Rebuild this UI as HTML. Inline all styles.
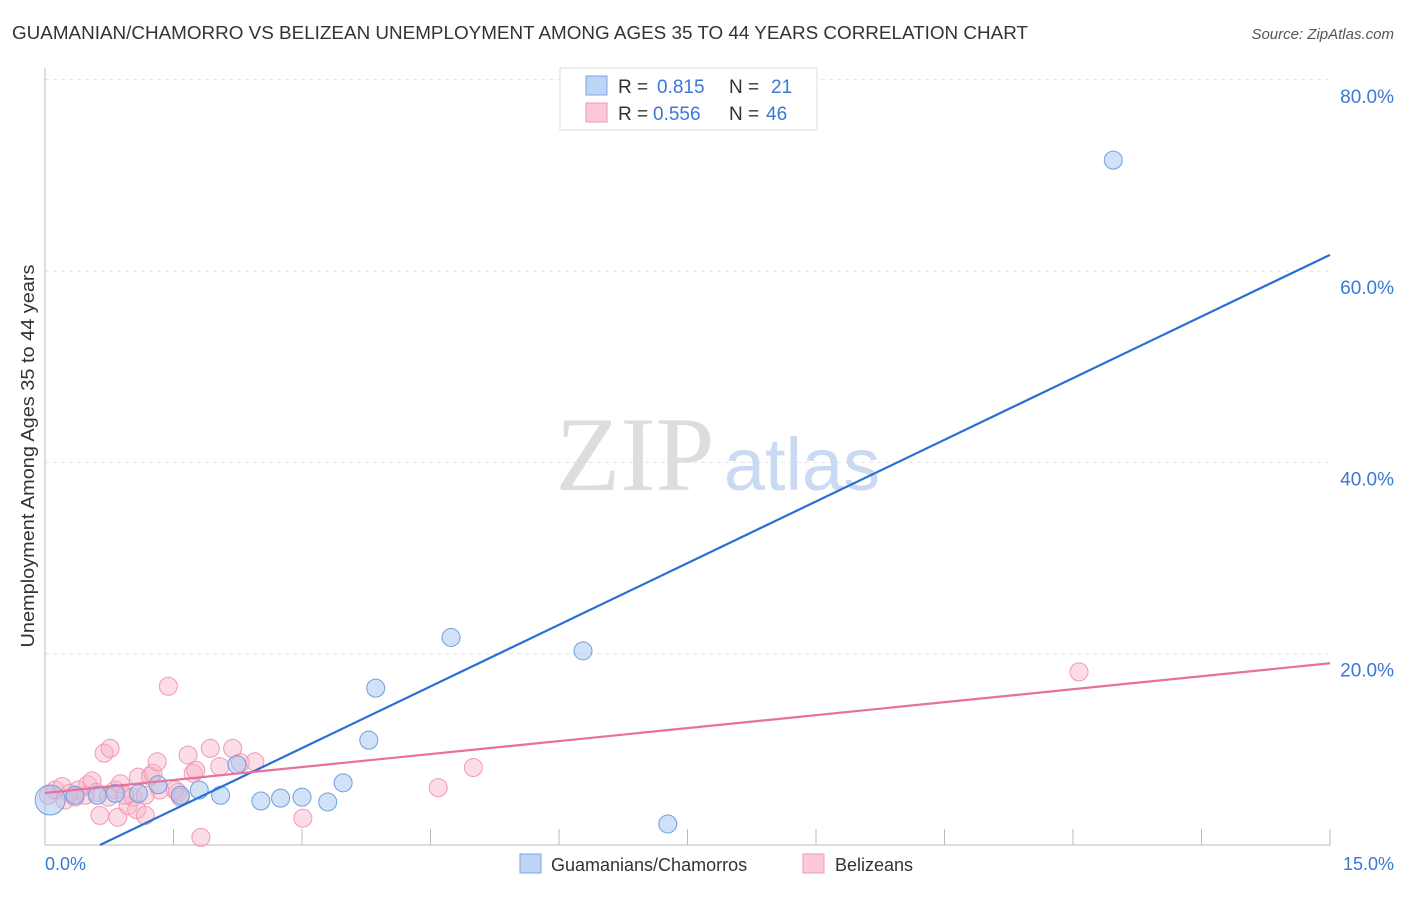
<!DOCTYPE html>
<html><head><meta charset="utf-8"><style>
body{margin:0;background:#fff;font-family:"Liberation Sans",sans-serif;}
</style></head><body>
<svg width="1406" height="892" xmlns="http://www.w3.org/2000/svg" font-family="Liberation Sans, sans-serif">
<text x="12" y="39" font-size="18" fill="#333" textLength="1016" lengthAdjust="spacingAndGlyphs">GUAMANIAN/CHAMORRO VS BELIZEAN UNEMPLOYMENT AMONG AGES 35 TO 44 YEARS CORRELATION CHART</text>
<text x="1394" y="39" font-size="15" fill="#555" text-anchor="end" font-style="italic">Source: ZipAtlas.com</text>
<text transform="translate(34,456) rotate(-90)" font-size="18" fill="#333" text-anchor="middle" textLength="383" lengthAdjust="spacingAndGlyphs">Unemployment Among Ages 35 to 44 years</text>
<g id="grid"></g>
<g><text x="635" y="490" font-size="106" fill="#ddd" font-family="Liberation Serif, serif" text-anchor="middle">ZIP</text><text x="802" y="490" font-size="74" fill="#c9daf2" text-anchor="middle">atlas</text></g>
<line x1="45" y1="68" x2="45" y2="845" stroke="#bbb"/>
<line x1="45" y1="845" x2="1330" y2="845" stroke="#bbb"/>
<g id="ticks"></g>
<g id="pts"></g>
<g id="lines"></g>
<text x="45" y="870" font-size="18" fill="#3a78d6">0.0%</text>
<text x="1394" y="870" font-size="18" fill="#3a78d6" text-anchor="end">15.0%</text>
<g>
<rect x="560" y="68" width="257" height="62" fill="#fff" stroke="#ddd"/>
<rect x="586" y="76" width="21" height="19" fill="#bcd4f5" stroke="#7aa6e6"/>
<rect x="586" y="103" width="21" height="19" fill="#fbc9d8" stroke="#ef9ab5"/>
<text x="618" y="93" font-size="19" fill="#333">R =</text>
<text x="657" y="93" font-size="19" fill="#3a78d6">0.815</text>
<text x="729" y="93" font-size="19" fill="#333">N =</text>
<text x="771" y="93" font-size="19" fill="#3a78d6">21</text>
<text x="618" y="120" font-size="19" fill="#333">R =</text>
<text x="653" y="120" font-size="19" fill="#3a78d6">0.556</text>
<text x="729" y="120" font-size="19" fill="#333">N =</text>
<text x="766" y="120" font-size="19" fill="#3a78d6">46</text>
</g>
<g>
<rect x="520" y="854" width="21" height="19" fill="#bcd4f5" stroke="#7aa6e6"/>
<text x="551" y="871" font-size="18" fill="#333">Guamanians/Chamorros</text>
<rect x="803" y="854" width="21" height="19" fill="#fbc9d8" stroke="#ef9ab5"/>
<text x="835" y="871" font-size="18" fill="#333">Belizeans</text>
</g>
</svg>
<script>
const yTicks=[20,40,60,80];
const xTickVals=[1.5,3,4.5,6,7.5,9,10.5,12,13.5,15];
const blueX=[0.06,0.35,0.61,0.82,1.09,1.32,1.58,1.80,2.05,2.24,2.52,2.75,3.0,3.30,3.48,3.78,3.86,4.74,6.28,7.27,12.47];
const blueY=[4.7,5.2,5.2,5.4,5.4,6.3,5.2,5.75,5.2,8.4,4.6,4.9,5.0,4.5,6.5,10.96,16.4,21.7,20.3,2.2,71.6];
const pinkX=[0.04,0.12,0.20,0.29,0.39,0.47,0.50,0.55,0.64,0.69,0.76,0.82,0.85,0.88,0.97,1.03,1.07,1.09,1.17,1.23,1.26,1.31,1.34,1.44,1.55,1.67,1.73,1.76,1.82,1.93,2.04,2.19,2.28,2.45,3.01,4.59,5.0,12.07,0.23,0.60,0.93,1.52,1.58,1.17,0.35,0.74];
const pinkY=[5.2,5.75,6.1,5.4,5.75,5.2,6.3,6.7,3.1,9.6,10.1,5.75,2.9,6.4,4.1,5.0,3.7,7.1,3.1,7.2,7.5,8.7,5.75,16.6,5.5,9.4,7.5,7.8,0.8,10.1,8.2,10.1,8.6,8.7,2.8,6.0,8.1,18.1,4.7,5.5,5.2,5.75,5.0,5.2,5.0,5.0];
const blueLine=[-2.76,61.7];
const pinkLine=[5.44,19.0];
const sx=v=>45+v/15*1285, sy=v=>845-v*9.565;
const NS="http://www.w3.org/2000/svg";
function mk(t,a,p){const e=document.createElementNS(NS,t);for(const k in a)e.setAttribute(k,a[k]);p.appendChild(e);return e;}
const grid=document.getElementById('grid');
yTicks.forEach(t=>{
const l=mk('line',{x1:45,x2:1330,y1:sy(t),y2:sy(t),stroke:'#e2e2e2','stroke-dasharray':'4,4'},grid);


const tx=mk('text',{x:1394,y:sy(t)+23,'font-size':19,fill:'#3a78d6','text-anchor':'end'},grid);tx.textContent=t.toFixed(1)+'%';


});
const tk=document.getElementById('ticks');
xTickVals.forEach(v=>{const l=mk('line',{x1:sx(v),x2:sx(v),y1:829,y2:845,stroke:'#bbb'},tk);

});
const pts=document.getElementById('pts');
pinkX.forEach((x,i)=>{const c=mk('circle',{cx:sx(x),cy:sy(pinkY[i]),r:9,fill:'rgba(248,180,200,0.45)',stroke:'#ef9ab5','stroke-width':1},pts);

});
blueX.forEach((x,i)=>{const c=mk('circle',{cx:sx(x),cy:sy(blueY[i]),r:i==0?15:9,fill:'rgba(164,196,240,0.5)',stroke:'#6f9fe0','stroke-width':1},pts);

});
const ln=document.getElementById('lines');
const x0b=(0-blueLine[0])/(blueLine[1]-blueLine[0])*15;
const bl=mk('line',{x1:sx(x0b),y1:sy(0),x2:sx(15),y2:sy(blueLine[1]),stroke:'#2a6fd6','stroke-width':2.2},ln);


const pl=mk('line',{x1:sx(0),y1:sy(pinkLine[0]),x2:sx(15),y2:sy(pinkLine[1]),stroke:'#e8709a','stroke-width':2.2},ln);


</script>
</body></html>
